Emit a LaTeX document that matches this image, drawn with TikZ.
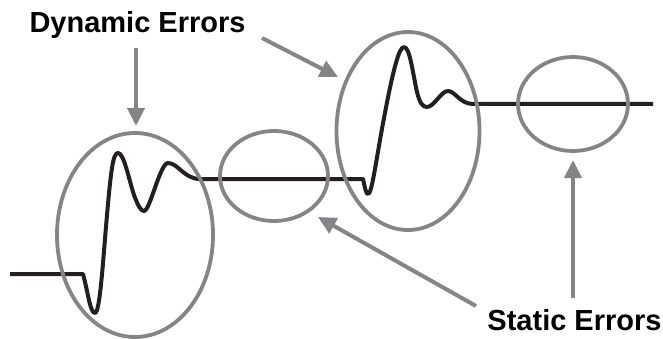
\documentclass[tikz,border=0pt]{standalone}
\usepackage{fontspec}
\setmainfont{Liberation Sans}
\usetikzlibrary{shapes.geometric,arrows.meta}
\definecolor{ringgray}{RGB}{133,133,136}
\definecolor{sigblack}{RGB}{35,31,32}
\tikzset{
  ring/.style={ellipse, draw=ringgray, line width=3.8pt, inner sep=0pt},
  pointer/.style={draw=ringgray, line width=4pt, -{Triangle[length=18pt,width=17pt]}},
  signal/.style={draw=sigblack, line width=4pt, line join=round},
  label/.style={font=\fontsize{29}{31}\selectfont\bfseries, text=black, inner sep=0pt, anchor=base}
}
\begin{document}
\begin{tikzpicture}[x=1pt,y=-1pt]
\useasboundingbox (0,0) rectangle (663,339);
% signal
\draw[signal] (10,274) -- (83,274)
  .. controls (88,292) and (90,313) .. (95,313)
  .. controls (100,313) and (103,260) .. (107,215)
  .. controls (111,170) and (113,153) .. (118,153)
  .. controls (124,153) and (129,180) .. (134,195)
  .. controls (138,206) and (141,211) .. (144,211)
  .. controls (150,211) and (160,163) .. (168,163)
  .. controls (178,163) and (184,179) .. (200,179)
  -- (363,179)
  .. controls (365,188) and (366,194) .. (368,194)
  .. controls (372,194) and (376,160) .. (384,118)
  .. controls (393,70) and (399,47) .. (404,47)
  .. controls (410,47) and (413,75) .. (417,92)
  .. controls (420,104) and (423,107) .. (427,107)
  .. controls (434,107) and (441,91) .. (448,91)
  .. controls (455,91) and (460,104) .. (473,104)
  -- (653,104);
% rings
\node[ring, minimum width=156pt, minimum height=204pt] (e1) at (135,235) {};
\node[ring, minimum width=108pt, minimum height=90pt] (e2) at (274,176) {};
\node[ring, minimum width=143pt, minimum height=198pt] (e3) at (408,131) {};
\node[ring, minimum width=110pt, minimum height=94pt] (e4) at (573,104) {};
% labels
\node[label] (dyn) at (137.5,33) {Dynamic Errors};
\node[label] (stat) at (574.5,330) {Static Errors};
% arrow end points
\coordinate (a1s) at (136,48);
\coordinate (a1e) at (136,126);
\coordinate (a2s) at (262,38);
\coordinate (a2e) at (338,77);
\coordinate (a3s) at (476,306);
\coordinate (a3e) at (318,217);
\coordinate (a4s) at (573,298);
\coordinate (a4e) at (573,160);
\draw[pointer] (a1s) -- (a1e);
\draw[pointer] (a2s) -- (a2e);
\draw[pointer] (a3s) -- (a3e);
\draw[pointer] (a4s) -- (a4e);
\end{tikzpicture}
\end{document}
